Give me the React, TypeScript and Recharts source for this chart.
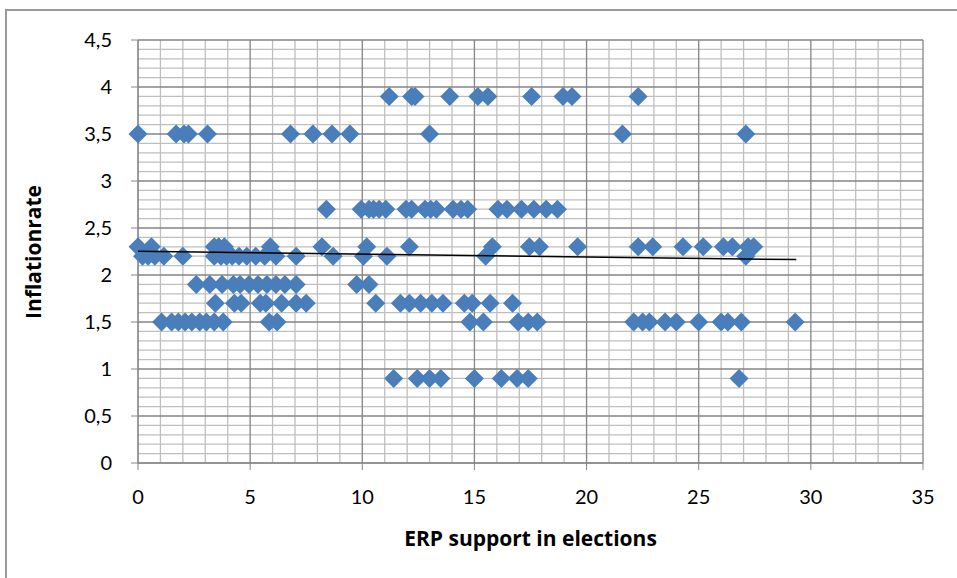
import React from 'react';
import { ScatterChart, Scatter, XAxis, YAxis, ReferenceLine } from 'recharts';

// ERP support (x) grouped by inflation rate level (y)
const erpAt39 = [11.2, 12.2, 12.35, 13.9, 15.15, 15.6, 17.55, 18.95, 19.35, 22.3];
const erpAt35 = [0, 1.7, 2.05, 2.25, 3.1, 6.8, 7.8, 8.65, 9.45, 13.0, 21.6, 27.1];
const erpAt27 = [8.4, 9.95, 10.3, 10.5, 10.75, 11.05, 11.95, 12.2, 12.8, 13.05, 13.3, 14.05, 14.4, 14.7, 16.05, 16.45, 17.1, 17.65, 18.2, 18.7];
const erpAt23 = [0, 0.6, 3.4, 3.6, 3.85, 5.9, 8.2, 10.2, 12.1, 15.8, 17.45, 17.9, 19.6, 22.3, 22.95, 24.3, 25.2, 26.1, 26.5, 27.2, 27.45];
const erpAt22 = [0.2, 0.45, 0.75, 1.15, 2.0, 3.4, 3.7, 3.95, 4.2, 4.5, 4.85, 5.25, 5.65, 6.15, 7.05, 8.7, 10.05, 11.1, 15.5, 27.1];
const erpAt19 = [2.6, 3.2, 3.75, 4.25, 4.55, 4.95, 5.35, 5.75, 6.15, 6.55, 7.05, 9.75, 10.3];
const erpAt17 = [3.45, 4.3, 4.6, 5.45, 5.7, 6.4, 7.05, 7.5, 10.6, 11.7, 12.1, 12.6, 13.1, 13.6, 14.55, 14.9, 15.7, 16.7];
const erpAt15 = [1.05, 1.5, 1.8, 2.1, 2.4, 2.75, 3.05, 3.4, 3.8, 5.85, 6.2, 14.8, 15.4, 16.95, 17.4, 17.8, 22.1, 22.5, 22.8, 23.5, 24.0, 25.0, 26.0, 26.3, 26.9, 29.3];
const erpAt09 = [11.4, 12.45, 13.0, 13.5, 15.0, 16.2, 16.9, 17.4, 26.8];

const levels: [number, number[]][] = [
  [3.9, erpAt39],
  [3.5, erpAt35],
  [2.7, erpAt27],
  [2.3, erpAt23],
  [2.2, erpAt22],
  [1.9, erpAt19],
  [1.7, erpAt17],
  [1.5, erpAt15],
  [0.9, erpAt09],
];

// linear trendline end points
const trendX = [0, 29.35];
const trendY = [2.252, 2.164];

const xTicks = [0, 5, 10, 15, 20, 25, 30, 35];
const yTicks = [0, 0.5, 1, 1.5, 2, 2.5, 3, 3.5, 4, 4.5];

const points = levels.flatMap(([y, xs]) => xs.map((x) => ({ x, y })));
const trend = trendX.map((x, i) => ({ x, y: trendY[i] }));

const minorX = Array.from({ length: 36 }, (_, i) => i).filter((v) => v % 5 !== 0);
const minorY = Array.from({ length: 46 }, (_, i) => i / 10).filter((v) => Math.round(v * 10) % 5 !== 0);

const FONT = 'Lato, "Open Sans", sans-serif';
const TITLE_FONT = '"Open Sans", Lato, sans-serif';
const MARKER = '#4a7ebb';

const Diamond = (props: any) => {
  const { cx, cy } = props;
  if (cx == null || cy == null) return <g />;
  const r = 9.5;
  return <path d={`M${cx},${cy - r}L${cx + r},${cy}L${cx},${cy + r}L${cx - r},${cy}Z`} fill={MARKER} />;
};

const fmt = (v: number) => String(v).replace('.', ',');

const titleStyle: React.CSSProperties = {
  position: 'absolute',
  whiteSpace: 'nowrap',
  fontFamily: TITLE_FONT,
  fontWeight: 'bold',
  fontSize: 21,
  color: '#000',
};

export default function App() {
  return (
    <div style={{ position: 'fixed', left: 0, top: 0, width: 957, height: 578, overflow: 'hidden', background: '#fff' }}>
      <div style={{ position: 'absolute', left: 5, top: 9, width: 1000, height: 1000, border: '2px solid #9a9a9a' }} />
      <div style={{ position: 'absolute', left: 0, top: 0 }}>
        <ScatterChart width={957} height={578} margin={{ top: 40, right: 34, bottom: 0, left: 0 }}>
          <XAxis
            type="number"
            dataKey="x"
            domain={[0, 35]}
            ticks={xTicks}
            height={115}
            tickSize={7}
            tickMargin={20}
            tickFormatter={fmt}
            stroke="#868686"
            tick={{ fill: '#000', fontSize: 20, fontFamily: FONT }}
          />
          <YAxis
            type="number"
            dataKey="y"
            domain={[0, 4.5]}
            ticks={yTicks}
            width={138}
            tickSize={7}
            tickMargin={19}
            tickFormatter={fmt}
            stroke="#868686"
            tick={{ fill: '#000', fontSize: 20, fontFamily: FONT }}
          />
          {minorX.map((v) => (
            <ReferenceLine key={`mx${v}`} x={v} stroke="#bfbfbf" strokeWidth={1.3} zIndex={-60} />
          ))}
          {minorY.map((v) => (
            <ReferenceLine key={`my${v}`} y={v} stroke="#bfbfbf" strokeWidth={1.3} zIndex={-60} />
          ))}
          {xTicks.map((v) => (
            <ReferenceLine key={`MX${v}`} x={v} stroke="#858585" strokeWidth={1.3} zIndex={-50} />
          ))}
          {yTicks.map((v) => (
            <ReferenceLine key={`MY${v}`} y={v} stroke="#858585" strokeWidth={1.3} zIndex={-50} />
          ))}
          <Scatter data={points} shape={Diamond} isAnimationActive={false} />
          <Scatter
            data={trend}
            line={{ stroke: '#000', strokeWidth: 1.5 }}
            shape={() => <g />}
            isAnimationActive={false}
          />
        </ScatterChart>
      </div>
      <div style={{ ...titleStyle, left: 33, top: 252, transform: 'translate(-50%, -50%) rotate(-90deg)' }}>
        Inflationrate
      </div>
      <div style={{ ...titleStyle, left: 530.5, top: 538, transform: 'translate(-50%, -50%)' }}>
        ERP support in elections
      </div>
    </div>
  );
}
